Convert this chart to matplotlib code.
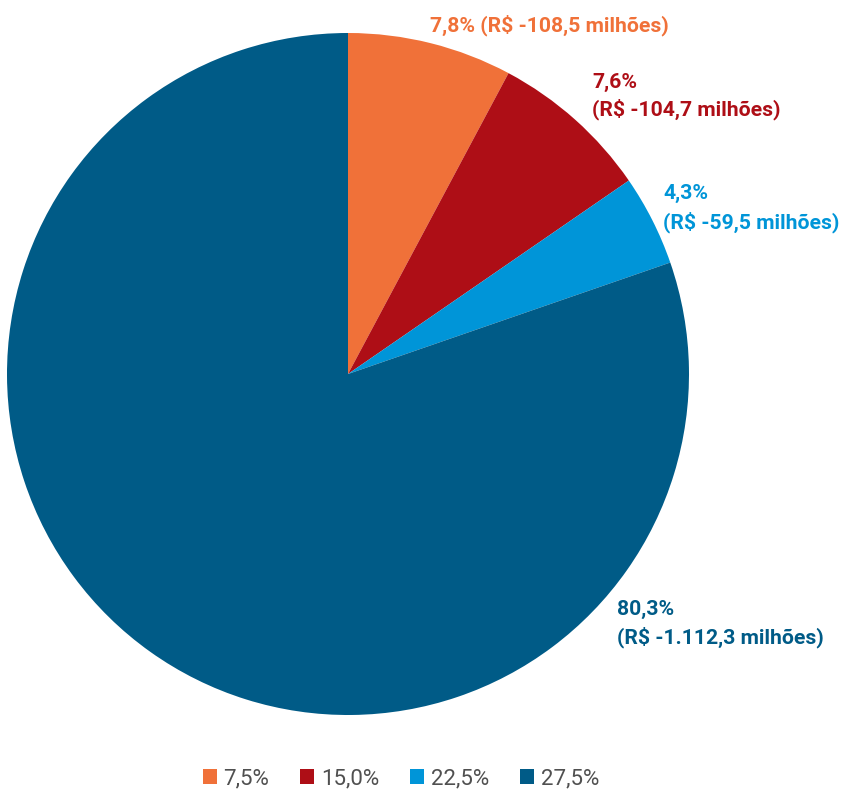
import matplotlib
matplotlib.use("Agg")
import matplotlib.pyplot as plt
from matplotlib import font_manager
from matplotlib.patches import Patch

names = {f.name for f in font_manager.fontManager.ttflist}
FONT = "Liberation Sans Narrow" if "Liberation Sans Narrow" in names else "Roboto"
plt.rcParams['font.family'] = [FONT, 'DejaVu Sans']

shares = [7.8, 7.6, 4.3, 80.3]
label_pct = ["7,8%", "7,6%", "4,3%", "80,3%"]
label_val = ["(R$ -108,5 milhões)", "(R$ -104,7 milhões)", "(R$ -59,5 milhões)", "(R$ -1.112,3 milhões)"]
legend_labels = ["7,5%", "15,0%", "22,5%", "27,5%"]
colors = ["#F07139", "#AE0E16", "#0095D8", "#005B87"]

W, H = 845, 789
fig = plt.figure(figsize=(W/100, H/100), dpi=100)
ax = fig.add_axes([7/W, (H-715)/H, 682/W, 682/H])
ax.pie(shares, colors=colors, startangle=90, counterclock=False, radius=1,
       wedgeprops=dict(linewidth=0))
ax.set_xlim(-1, 1); ax.set_ylim(-1, 1)
ax.set_aspect('equal')
ax.axis('off')

def ftxt(x, y, s, c):
    fig.text(x/W, 1 - y/H, s, color=c, fontsize=15.2, fontweight='bold',
             ha='left', va='baseline')

ftxt(430, 31, label_pct[0] + " " + label_val[0], colors[0])
ftxt(592, 88, label_pct[1], colors[1])
ftxt(592, 115, label_val[1], colors[1])
ftxt(663, 199, label_pct[2], colors[2])
ftxt(663, 228, label_val[2], colors[2])
ftxt(617, 615, label_pct[3], colors[3])
ftxt(617, 643, label_val[3], colors[3])

handles = [Patch(facecolor=c, edgecolor='none') for c in colors]
leg = fig.legend(handles, legend_labels, loc='center', bbox_to_anchor=(401/W, 1 - 779/H),
                 ncol=4, frameon=False, prop=dict(size=16, weight='normal'),
                 handlelength=0.62, handleheight=0.62,
                 handletextpad=0.3, columnspacing=1.4, labelcolor='#505050')

fig.savefig("out.png", dpi=100)
